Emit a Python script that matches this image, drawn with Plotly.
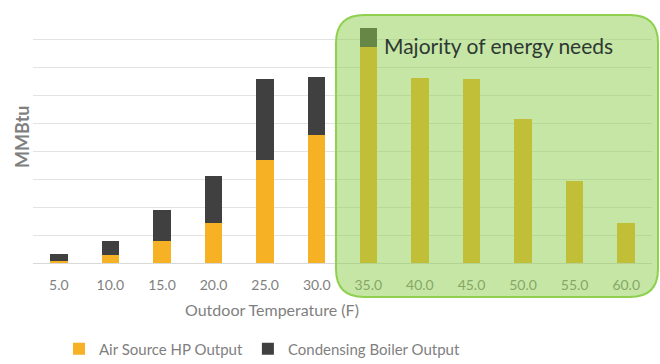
import plotly.graph_objects as go

# Outdoor temperature bins (F)
temps = ["5.0", "10.0", "15.0", "20.0", "25.0", "30.0",
         "35.0", "40.0", "45.0", "50.0", "55.0", "60.0"]

# Heat delivered per bin (MMBtu)
hp_output = [0.08, 0.28, 0.79, 1.43, 3.70, 4.60,
             7.75, 6.64, 6.59, 5.17, 2.94, 1.42]
boiler_output = [0.24, 0.52, 1.12, 1.69, 2.89, 2.07,
                 0.68, 0.0, 0.0, 0.0, 0.0, 0.0]

ORANGE = "#F7B125"
DARK = "#404040"
GREY = "#7F7F7F"
FONT = "Lato"

fig = go.Figure()
fig.add_trace(go.Bar(x=temps, y=hp_output, name="Air Source HP Output",
                     marker=dict(color=ORANGE, line=dict(width=0))))
fig.add_trace(go.Bar(x=temps, y=boiler_output, name="Condensing Boiler Output",
                     marker=dict(color=DARK, line=dict(width=0))))

# Plot-area geometry in pixels, used to place the highlight box and labels
L, R, T, B = 33, 652, 12, 263
W, H = R - L, B - T


def px(x):
    return (x - L) / W


def py(y):
    return (B - y) / H


# Rounded highlight box around the warmer bins
x0, x1, y0, y1, r = 336, 658, 15, 297, 28
path = (
    f"M {px(x0 + r)},{py(y0)} L {px(x1 - r)},{py(y0)} "
    f"Q {px(x1)},{py(y0)} {px(x1)},{py(y0 + r)} "
    f"L {px(x1)},{py(y1 - r)} "
    f"Q {px(x1)},{py(y1)} {px(x1 - r)},{py(y1)} "
    f"L {px(x0 + r)},{py(y1)} "
    f"Q {px(x0)},{py(y1)} {px(x0)},{py(y1 - r)} "
    f"L {px(x0)},{py(y0 + r)} "
    f"Q {px(x0)},{py(y0)} {px(x0 + r)},{py(y0)} Z"
)
fig.add_shape(type="path", path=path, xref="paper", yref="paper",
              fillcolor="rgba(140,205,75,0.5)",
              line=dict(color="#8FD14F", width=2), layer="above")

fig.add_annotation(text="Majority of energy needs", xref="paper", yref="paper",
                   x=px(382), y=py(45), xanchor="left", yanchor="middle",
                   showarrow=False, font=dict(family=FONT, size=21, color="#2E3833"))

# Axis titles
fig.add_annotation(text="Outdoor Temperature (F)", xref="paper", yref="paper",
                   x=px(272), y=py(309), xanchor="center", yanchor="middle",
                   showarrow=False, font=dict(family=FONT, size=16, color=GREY))
fig.add_annotation(text="<b>MMBtu</b>", xref="paper", yref="paper",
                   x=px(22), y=py(137), xanchor="center", yanchor="middle",
                   textangle=-90, showarrow=False,
                   font=dict(family=FONT, size=18, color=GREY))

fig.update_layout(
    width=660, height=364,
    margin=dict(l=L, r=660 - R, t=T, b=364 - B, autoexpand=False),
    barmode="stack", bargap=0.66,
    plot_bgcolor="white", paper_bgcolor="white",
    font=dict(family=FONT, color=GREY),
    showlegend=True,
    legend=dict(orientation="h", x=px(262), xanchor="center", y=py(349), yanchor="middle",
                font=dict(family=FONT, size=15, color=GREY),
                itemwidth=30, traceorder="normal"),
    xaxis=dict(
        type="category",
        tickfont=dict(family=FONT, size=14, color=GREY),
        ticks="", ticklabelstandoff=9,
        showline=True, linecolor="#D9D9D9", linewidth=1,
    ),
    yaxis=dict(
        range=[0, 9], dtick=1, showticklabels=False,
        showgrid=True, gridcolor="#E3E3E3", gridwidth=1,
        zeroline=False,
    ),
)

fig.write_html("out.html")
